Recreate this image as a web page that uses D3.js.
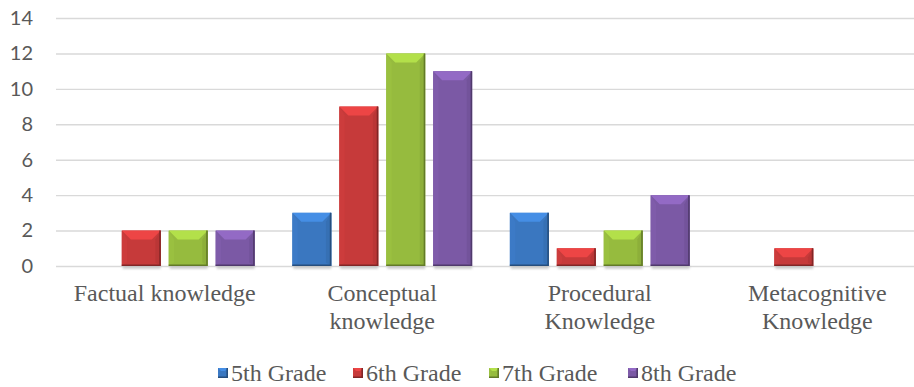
<!DOCTYPE html>
<html>
<head>
<meta charset="utf-8">
<script src="https://cdn.jsdelivr.net/npm/d3@7"></script>
<style>
  body { margin: 0; background: #fff; }
</style>
</head>
<body>
<div id="my_dataviz"></div>
<script>
// data
const categories = ["Factual knowledge", "Conceptual knowledge", "Procedural Knowledge", "Metacognitive Knowledge"];
const grades = ["5th Grade", "6th Grade", "7th Grade", "8th Grade"];
const grade5 = [0, 3, 3, 0];
const grade6 = [2, 9, 1, 1];
const grade7 = [2, 12, 2, 0];
const grade8 = [2, 11, 4, 0];
const yTicks = [0, 2, 4, 6, 8, 10, 12, 14];

const seriesValues = [grade5, grade6, grade7, grade8];
const colors = ["#3a77c0", "#c63a3a", "#96bb3e", "#7b59a5"];

const width = 914, height = 387;
const plotLeft = 56, plotRight = 926, plotTop = 18, plotBottom = 266;

const svg = d3.select("#my_dataviz")
  .append("svg")
    .attr("width", width)
    .attr("height", height);

const defs = svg.append("defs");
defs.append("filter").attr("id", "blur")
  .attr("x", "-20%").attr("y", "-50%").attr("width", "140%").attr("height", "200%")
  .append("feGaussianBlur").attr("stdDeviation", 1.2);

const x0 = d3.scaleBand()
  .domain(categories)
  .range([plotLeft, plotRight])
  .paddingInner(0.1735)
  .paddingOuter(0.0867);

const x1 = d3.scaleBand()
  .domain(grades)
  .range([0, x0.bandwidth()])
  .paddingInner(0.17);

const y = d3.scaleLinear()
  .domain([0, 14])
  .range([plotBottom, plotTop]);

// gridlines + y labels
const yAxis = svg.append("g")
  .attr("transform", `translate(${plotLeft},0)`)
  .call(d3.axisLeft(y).tickValues(yTicks).tickSize(-(width - plotLeft)).tickPadding(23));
yAxis.select(".domain").remove();
yAxis.selectAll(".tick line")
  .attr("stroke", "#d9d9d9")
  .attr("stroke-width", 1.4);
yAxis.selectAll(".tick text")
  .attr("fill", "#595959")
  .style("font-family", "Lato, 'Open Sans', sans-serif")
  .style("font-size", "20px");

// bevel bar helper
function bevelBar(g, x, yTop, w, h, color, b) {
  const c = d3.color(color);
  g.append("rect").attr("x", x).attr("y", yTop).attr("width", w).attr("height", h).attr("fill", color);
  // top facet
  g.append("path")
    .attr("d", `M${x},${yTop}L${x + w},${yTop}L${x + w - b},${yTop + b}L${x + b},${yTop + b}Z`)
    .attr("fill", c.brighter(0.5));
  // left facet
  g.append("path")
    .attr("d", `M${x},${yTop}L${x + b * 0.6},${yTop + b}L${x + b * 0.6},${yTop + h - b * 0.4}L${x},${yTop + h}Z`)
    .attr("fill", c.brighter(0.08));
  // right facet
  g.append("path")
    .attr("d", `M${x + w},${yTop}L${x + w - b * 0.6},${yTop + b}L${x + w - b * 0.6},${yTop + h - b * 0.4}L${x + w},${yTop + h}Z`)
    .attr("fill", c.darker(0.18));
  // thin dark rim on the right/bottom
  g.append("path")
    .attr("d", `M${x + w - 0.75},${yTop}L${x + w - 0.75},${yTop + h - 0.75}L${x},${yTop + h - 0.75}`)
    .attr("fill", "none").attr("stroke", c.darker(1.2)).attr("stroke-width", 1.5);
}

// bars
const barData = [];
categories.forEach((cat, i) => {
  grades.forEach((gr, j) => {
    const v = seriesValues[j][i];
    if (v > 0) barData.push({ cat: cat, grade: gr, value: v, color: colors[j] });
  });
});

const bars = svg.append("g");
barData.forEach(d => {
  const bx = x0(d.cat) + x1(d.grade);
  const bw = x1.bandwidth();
  const by = y(d.value);
  const bh = y(0) - by;
  const g = bars.append("g");
  // soft shadow under the bar
  g.append("rect")
    .attr("x", bx + 1).attr("y", y(0) - 1).attr("width", bw - 1).attr("height", 4)
    .attr("fill", "#bdbdbd").attr("opacity", 0.7).attr("filter", "url(#blur)");
  bevelBar(g, bx, by, bw, bh, d.color, Math.min(9, bh / 2, bw / 2));
});

// x labels with wrapping
svg.append("g")
  .selectAll("text")
  .data(categories)
  .join("text")
    .attr("x", d => x0(d) + x0.bandwidth() / 2)
    .attr("y", 301)
    .attr("text-anchor", "middle")
    .attr("fill", "#595959")
    .style("font-family", "'Liberation Serif', 'Times New Roman', serif")
    .style("font-size", "24px")
    .each(function(d) {
      const t = d3.select(this);
      const words = d.split(" ");
      let line = [], lines = [];
      const tmp = t.append("tspan");
      words.forEach(wd => {
        line.push(wd);
        tmp.text(line.join(" "));
        if (tmp.node().getComputedTextLength() > 200 && line.length > 1) {
          line.pop();
          lines.push(line.join(" "));
          line = [wd];
        }
      });
      lines.push(line.join(" "));
      tmp.remove();
      lines.forEach((ln, k) => {
        t.append("tspan")
          .attr("x", x0(d) + x0.bandwidth() / 2)
          .attr("dy", k === 0 ? 0 : 28)
          .text(ln);
      });
    });

// legend
const legendX = [218, 353, 489, 628];
const legend = svg.append("g")
  .selectAll("g")
  .data(grades)
  .join("g")
    .attr("transform", (d, i) => `translate(${legendX[i]},368)`);
legend.each(function(d, i) {
  bevelBar(d3.select(this), 0, 0, 10, 10, colors[i], 3);
});
legend.append("text")
  .attr("x", 13)
  .attr("y", 13)
  .attr("fill", "#595959")
  .style("font-family", "'Liberation Serif', 'Times New Roman', serif")
  .style("font-size", "24px")
  .text(d => d);
</script>
</body>
</html>
